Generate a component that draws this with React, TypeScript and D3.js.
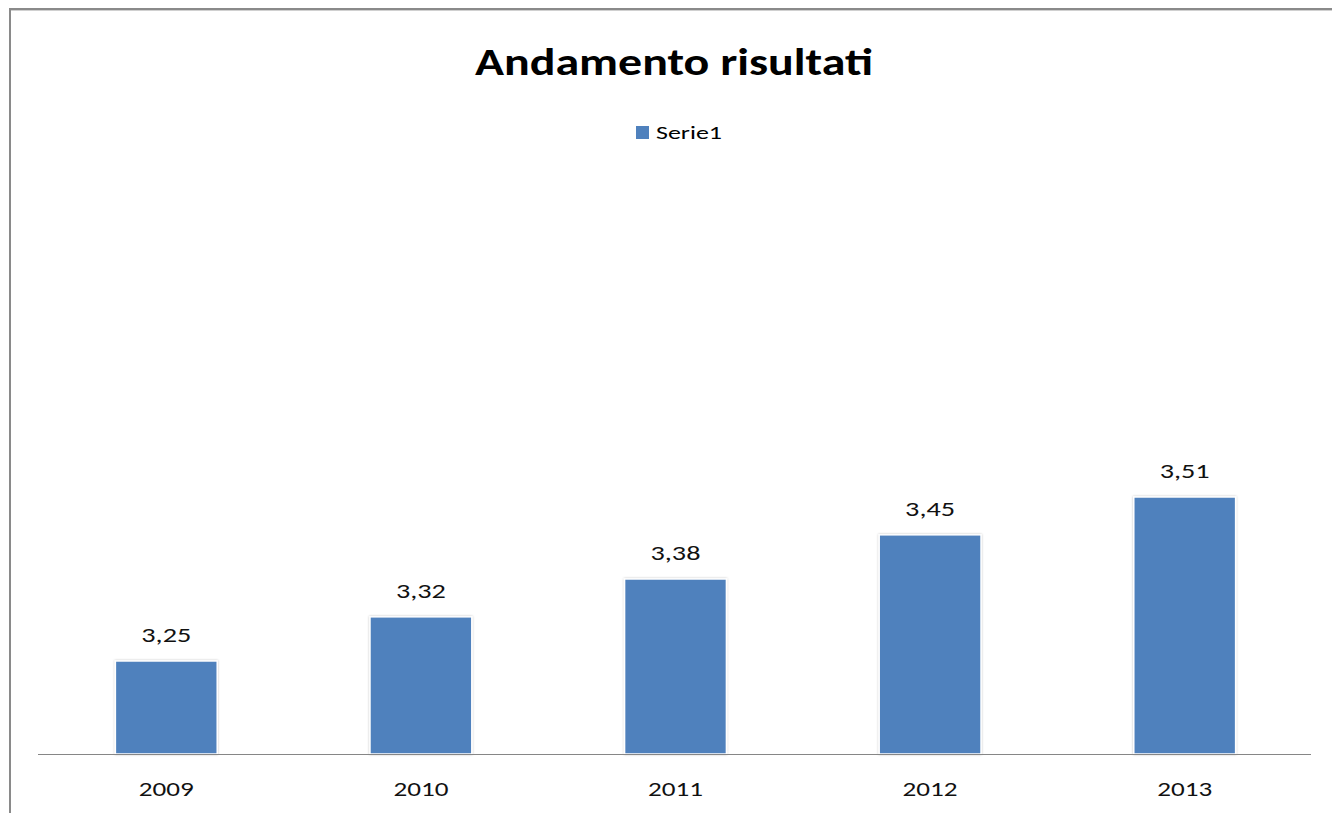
import React from "react";
import * as d3 from "d3";

const categories = ["2009", "2010", "2011", "2012", "2013"];
const values = [3.25, 3.32, 3.38, 3.45, 3.51];
const seriesName = "Serie1";
const title = "Andamento risultati";

const W = 1332;
const H = 813;
const FONT = "Carlito, Calibri, 'Open Sans', 'Noto Sans', sans-serif";

export default function App() {
  const x = d3.scaleBand<string>().domain(categories).range([39, 1312]).paddingInner(0.6).paddingOuter(0.3);
  const y = d3.scaleLinear().domain([3.1, 4.0]).range([755.6, 187.9]);
  const base = 754;
  const fmt = (v: number) => d3.format(".2f")(v).replace(".", ",");
  return (
    <svg width={W} height={H} style={{ position: "absolute", left: 0, top: 0, background: "#fff" }}>
      <defs>
        <filter id="sh" x="-10%" y="-10%" width="120%" height="120%">
          <feDropShadow dx="0" dy="0" stdDeviation="1.2" floodColor="#000" floodOpacity="0.25" />
        </filter>
      </defs>
      <rect x={0} y={0} width={W} height={H} fill="#fff" />
      <line x1={9} y1={9} x2={W} y2={9} stroke="#8a8a8a" strokeWidth={2} />
      <line x1={9} y1={10.5} x2={W} y2={10.5} stroke="#d0d0d0" strokeWidth={1} />
      <line x1={10} y1={9} x2={10} y2={H} stroke="#8a8a8a" strokeWidth={2} />
      <text x={674} y={75} textAnchor="middle" fontFamily={FONT} fontWeight="bold" fontSize={38} fill="#000" textLength={398} lengthAdjust="spacingAndGlyphs">
        {title}
      </text>
      <rect x={636} y={126} width={13} height={13} fill="#4F81BD" />
      <text x={656} y={139} fontFamily={FONT} fontSize={19} fill="#000" textLength={66} lengthAdjust="spacingAndGlyphs">
        {seriesName}
      </text>
      {values.map((v, i) => {
        const c = categories[i];
        const bx = x(c)!;
        const bw = x.bandwidth();
        return (
          <g key={c}>
            <rect x={bx} y={y(v)} width={bw} height={base - y(v)} fill="#4F81BD" stroke="#fff" strokeWidth={1.5} filter="url(#sh)" />
            <text x={bx + bw / 2} y={y(v) - 19} textAnchor="middle" fontFamily={FONT} fontSize={21} fill="#111" textLength={50} lengthAdjust="spacingAndGlyphs">
              {fmt(v)}
            </text>
            <text x={bx + bw / 2} y={796} textAnchor="middle" fontFamily={FONT} fontSize={21} fill="#111" textLength={55} lengthAdjust="spacingAndGlyphs">
              {c}
            </text>
          </g>
        );
      })}
      <line x1={38} y1={754.5} x2={1311} y2={754.5} stroke="#868686" strokeWidth={1} />
    </svg>
  );
}
